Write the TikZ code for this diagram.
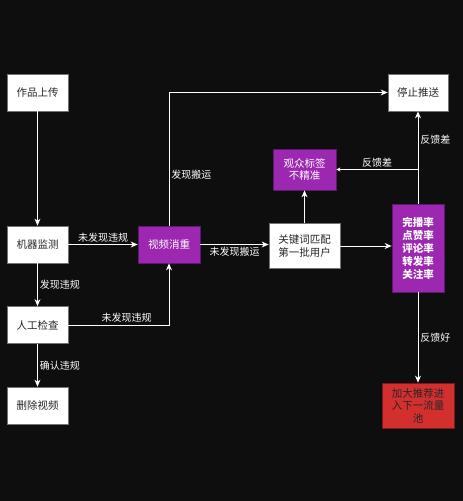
\documentclass[tikz,border=0pt]{standalone}
\usepackage{fontspec}
\setmainfont{Noto Sans CJK SC}
\usetikzlibrary{arrows.meta,positioning,calc}
\definecolor{bgdark}{HTML}{0E0E0E}
\definecolor{vpurple}{HTML}{9C27B0}
\definecolor{vpurpleline}{HTML}{5E1870}
\definecolor{vred}{HTML}{D32F2F}
\definecolor{vredline}{HTML}{7A1A1A}
\tikzset{
  plain/.style={rectangle, draw=black!55, line width=0.8pt, fill=white,
    align=center, inner sep=2pt, minimum width=61pt, minimum height=37pt,
    font=\fontsize{10.5}{12.5}\selectfont, text=black!85},
  hot/.style={plain, fill=vpurple, draw=vpurpleline, text=white},
  alert/.style={plain, fill=vred, draw=vredline, text=black!85},
  lbl/.style={font=\fontsize{10}{12}\selectfont, text=white!85, inner sep=2pt},
  flow/.style={-{Stealth[length=7pt, width=6pt]}, line width=0.9pt, draw=white!88},
}
\begin{document}
\begin{tikzpicture}[x=1pt, y=-1pt]
  \fill[bgdark] (0,0) rectangle (463,501);
  \useasboundingbox (0,0) rectangle (463,501);
  % left column
  \node[plain] (upload)  at (37.5,92.5)  {作品上传};
  \node[plain] (machine) at (37.5,244.5) {机器监测};
  \node[plain] (manual)  at (37.5,325)   {人工检查};
  \node[plain] (delete)  at (37.5,405.5) {删除视频};
  % middle
  \node[hot, minimum width=62pt] (dedup) at (169,244.5) {视频消重};
  \node[plain, minimum width=71pt, minimum height=45pt] (keyword) at (304.5,246)
    {关键词匹配\\第一批用户};
  \node[hot, minimum width=63pt, minimum height=41pt] (audience) at (304.5,169.5)
    {观众标签\\不精准};
  % right column
  \node[plain, minimum width=60pt] (stop) at (418,92.5) {停止推送};
  \node[hot, minimum width=52pt, minimum height=88pt,
    font=\fontsize{10.5}{13}\selectfont\bfseries] (metrics) at (418,248)
    {完播率\\点赞率\\评论率\\转发率\\关注率};
  \node[alert, minimum width=72pt, minimum height=45pt] (boost) at (418,405.5)
    {加大推荐进\\入下一流量\\池};
  % connectors
  \draw[flow] (upload) -- (machine);
  \draw[flow] (machine) -- node[lbl, above] {未发现违规} (dedup);
  \draw[flow] (machine) -- node[lbl, right] {发现违规} (manual);
  \draw[flow] (manual.east) -| node[lbl, above, pos=0.29] {未发现违规} (dedup.south);
  \draw[flow] (manual) -- node[lbl, right] {确认违规} (delete);
  \draw[flow] (dedup.north) |- node[lbl, right, pos=0.19] {发现搬运} (stop.west);
  \draw[flow] (dedup.east) -- node[lbl, below] {未发现搬运} (keyword.west |- dedup.east);
  \draw[flow] (keyword) -- (audience);
  \draw[flow] (keyword.east) -- (keyword.east -| metrics.west);
  \draw[flow] (metrics) -- node[lbl, right, pos=0.69] {反馈差} (stop);
  \coordinate (fbbad) at (metrics.north |- audience.east);
  \draw[flow, -{Stealth[length=4pt, width=4pt]}] (fbbad) -- node[lbl, above] {反馈差} (audience);
  \draw[flow] (metrics) -- node[lbl, right] {反馈好} (boost);
\end{tikzpicture}
\end{document}
